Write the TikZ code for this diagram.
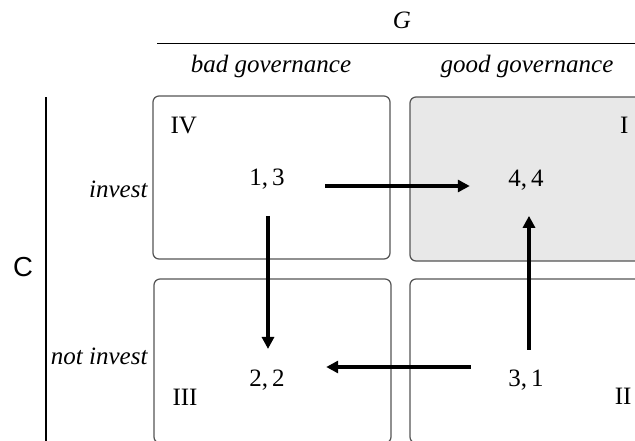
\documentclass[tikz,border=0pt]{standalone}
\usepackage{fontspec}
\setmainfont{Liberation Serif}
\newfontfamily\sansfam{Liberation Sans}
\usepackage{tikz}
\usetikzlibrary{positioning, arrows, arrows.meta}
\definecolor{cellline}{HTML}{555555}
\definecolor{cellfill}{HTML}{E8E8E8}

\begin{document}
\begin{tikzpicture}[x=0.4pt,y=-0.4pt,
  cell/.style={draw=cellline,line width=0.5pt,rounded corners=2.4pt},
  rule/.style={line width=0.55pt},
  payoff/.style={inner sep=0pt,anchor=base},
  lbl/.style={inner sep=0pt,font=\itshape},
  quad/.style={inner sep=0pt},
  move/.style={line width=1.6pt,-{Triangle[length=4.8pt,width=4.8pt]}}]
\useasboundingbox (0,0) rectangle (635,441);
\clip (0,0) rectangle (635,441);
% the four cells
\draw[cell] (153,96) rectangle (390,259);
\draw[cell,fill=cellfill] (410,97) rectangle (647,261);
\draw[cell] (154,279) rectangle (391,443);
\draw[cell] (410,279) rectangle (647,443);
% player G on top
\node[lbl,anchor=base] (G) at (402,28) {G};
\draw[rule] (157,43.7) -- (635,43.7);
\node[lbl,anchor=base] (bad) at (271,72) {bad governance};
\node[lbl,anchor=base] (good) at (527,72) {good governance};
% player C on the left
\node[inner sep=0pt,anchor=base,font=\sansfam\fontsize{11}{13}\selectfont] (C) at (23,276) {C};
\draw[rule] (46,97) -- (46,441);
\node[lbl,anchor=base east] (inv) at (148,197) {invest};
\node[lbl,anchor=base east] (notinv) at (148,364) {not invest};
% quadrant numbers
\node[quad,anchor=base west] (qIV) at (170,133) {IV};
\node[quad,anchor=base east] (qI) at (629,133) {I};
\node[quad,anchor=base west] (qIII) at (172,405) {III};
\node[quad,anchor=base east] (qII) at (632,404) {II};
% payoffs
\node[payoff] (p13) at (267,185) {1,\,3};
\node[payoff] (p44) at (526,186) {4,\,4};
\node[payoff] (p22) at (267,386) {2,\,2};
\node[payoff] (p31) at (526,386) {3,\,1};
% best responses
\draw[move] ([shift={(40,1)}]p13.base east) -- ([shift={(-38,0)}]p44.base west);
\draw[move] ([shift={(1,26.5)}]p13.south) -- ([shift={(1,-20)}]p22.north);
\draw[move] ([shift={(-37,-19)}]p31.base west) -- ([shift={(41,-19)}]p22.base east);
\draw[move] ([shift={(3,-19)}]p31.north) -- ([shift={(3,25.5)}]p44.south);
\end{tikzpicture}
\end{document}
